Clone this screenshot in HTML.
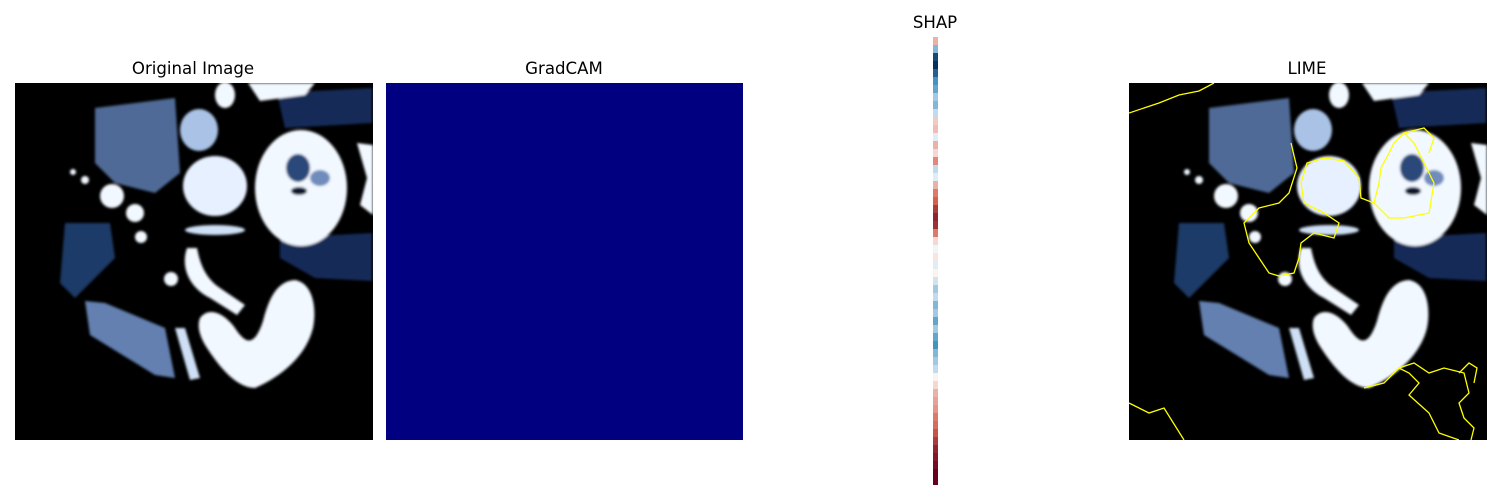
<!DOCTYPE html>
<html><head><meta charset="utf-8"><style>
body{margin:0;background:#fff;width:1500px;height:500px;overflow:hidden;font-family:"DejaVu Sans","Liberation Sans",sans-serif}
.t{position:absolute;font-size:16.6px;color:#000;transform:translateX(-50%);white-space:nowrap}
svg{position:absolute}
</style></head><body>
<div class="t" style="left:193px;top:59px">Original Image</div>
<div class="t" style="left:564px;top:59px">GradCAM</div>
<div class="t" style="left:935px;top:13px">SHAP</div>
<div class="t" style="left:1307px;top:59px">LIME</div>

<svg width="0" height="0" style="position:absolute">
<defs>
<filter id="blur"><feGaussianBlur stdDeviation="1.2"/></filter>
<symbol id="ct" viewBox="0 0 358 357">
<rect width="358" height="357" fill="#000000"/>
<g filter="url(#blur)">
<path d="M265,155 L357,150 L357,198 L300,195 L265,175Z" fill="#142c58"/>
<path d="M262,10 L357,5 L357,40 L270,45Z" fill="#142c58"/>
<path d="M80,25 L160,15 L165,90 L140,110 L100,100 L80,80Z" fill="#4f6a96"/>
<path d="M50,140 L95,140 L100,175 L60,215 L45,200Z" fill="#1f3a68"/>
<path d="M70,218 L90,220 L150,245 L160,295 L140,292 L75,252Z" fill="#6480b0"/>
<ellipse cx="184" cy="47" rx="19" ry="21" fill="#a9c2e6"/>
<ellipse cx="210" cy="12" rx="10" ry="13" fill="#f2f8ff"/>
<path d="M233,0 L300,0 L290,12 L245,18Z" fill="#f2f8ff"/>
<ellipse cx="286" cy="105" rx="46" ry="58" fill="#f2f8ff"/>
<ellipse cx="283" cy="85" rx="12" ry="14" fill="#2a4a7a"/>
<ellipse cx="284" cy="108" rx="8" ry="4" fill="#0a1630"/>
<ellipse cx="305" cy="95" rx="10" ry="8" fill="#6f8cbc"/>
<path d="M342,60 L358,62 L358,132 L345,122 L352,95Z" fill="#f2f8ff"/>
<ellipse cx="200" cy="103" rx="32" ry="30" fill="#e6f0ff"/>
<ellipse cx="200" cy="147" rx="30" ry="5" fill="#cfe0f6"/>
<circle cx="97" cy="113" r="12" fill="#f2f8ff"/>
<circle cx="120" cy="130" r="9" fill="#f2f8ff"/>
<circle cx="126" cy="154" r="6" fill="#f2f8ff"/>
<circle cx="156" cy="196" r="7" fill="#f2f8ff"/>
<circle cx="58" cy="89" r="3" fill="#f2f8ff"/>
<circle cx="70" cy="97" r="4" fill="#f2f8ff"/>
<path d="M172,165 C165,185 175,205 195,215 L222,232 L230,222 L205,205 C190,195 185,180 182,165Z" fill="#f2f8ff"/>
<path d="M185,235 C195,222 212,232 222,248 C232,262 240,262 248,238 C254,215 262,198 280,197 C298,200 302,225 298,245 C292,270 270,292 240,305 C222,305 205,285 192,265 C182,250 183,240 185,235Z" fill="#f2f8ff"/>
<path d="M160,245 L170,245 L185,295 L175,297Z" fill="#cfe0f6"/>
</g>
</symbol>
</defs>
</svg>

<svg style="left:15px;top:83px" width="358" height="357"><use href="#ct"/></svg>
<svg style="left:386px;top:83px" width="357" height="357"><rect width="357" height="357" fill="#000080"/></svg>

<svg id="shap" style="left:933px;top:37px" width="5" height="448"></svg>

<svg style="left:1129px;top:83px" width="358" height="357">
<use href="#ct"/>
<g fill="none" stroke="#ffff00" stroke-width="1.3">
<path d="M0,30 L30,20 L50,12 L70,8 L85,0"/>
<path d="M162,60 L168,85 L160,110 L150,120 L130,125 L115,140 L120,160 L130,175 L140,190 L150,193 L165,190 L170,175 L172,160 L185,150 L205,155 L210,140 L195,130 L175,120 L172,100 L178,80 L195,75 L215,78 L230,95 L232,115 L245,120 L260,135 L275,135 L300,130 L305,100 L295,80 L285,60 L275,50 L295,45 L305,55 L300,70"/>
<path d="M245,120 L250,100 L252,85 L260,70 L265,60 L275,50"/>
<path d="M0,320 L20,330 L35,325 L55,357"/>
<path d="M235,305 L255,300 L270,285 L280,290 L290,300 L280,312 L300,330 L310,350 L330,357"/>
<path d="M270,285 L285,280 L300,290 L315,285 L335,290 L340,310 L330,320 L335,335 L345,345 L342,357"/>
<path d="M330,290 L340,280 L348,285 L345,300"/>
</g>
</svg>

<script>
const shapValues=[0.3,-0.4,-0.9,-1.0,-0.8,-0.6,-0.5,-0.3,-0.4,-0.2,0.2,0.25,-0.1,0.3,0.15,0.45,-0.2,-0.1,0.3,0.5,0.6,0.75,0.85,0.8,0.5,0.15,-0.05,0.1,-0.1,0.05,-0.15,-0.3,-0.2,-0.4,-0.3,-0.5,-0.3,-0.5,-0.6,-0.4,-0.3,-0.2,0.05,0.15,0.3,0.35,0.4,0.5,0.55,0.65,0.75,0.85,0.9,0.95,1.0,1.0];
const svg=document.getElementById('shap');
const H=448,n=shapValues.length,ch=H/n;
function col(v){
  const w=[255,255,255],r=[103,0,31],b=[5,48,97],lr=[214,96,77],lb=[67,147,195];
  const a=Math.min(1,Math.abs(v));
  let c1,c2,t;
  if(a<0.6){c1=w;c2=v>0?lr:lb;t=a/0.6;}else{c1=v>0?lr:lb;c2=v>0?r:b;t=(a-0.6)/0.4;}
  const m=c1.map((x,i)=>Math.round(x+(c2[i]-x)*t));
  return 'rgb('+m.join(',')+')';
}
shapValues.forEach((v,i)=>{
  const re=document.createElementNS('http://www.w3.org/2000/svg','rect');
  re.setAttribute('x',0);re.setAttribute('y',i*ch);re.setAttribute('width',5);re.setAttribute('height',ch+0.5);
  re.setAttribute('fill',col(v));
  
  
  svg.appendChild(re);
});
</script>
</body></html>
